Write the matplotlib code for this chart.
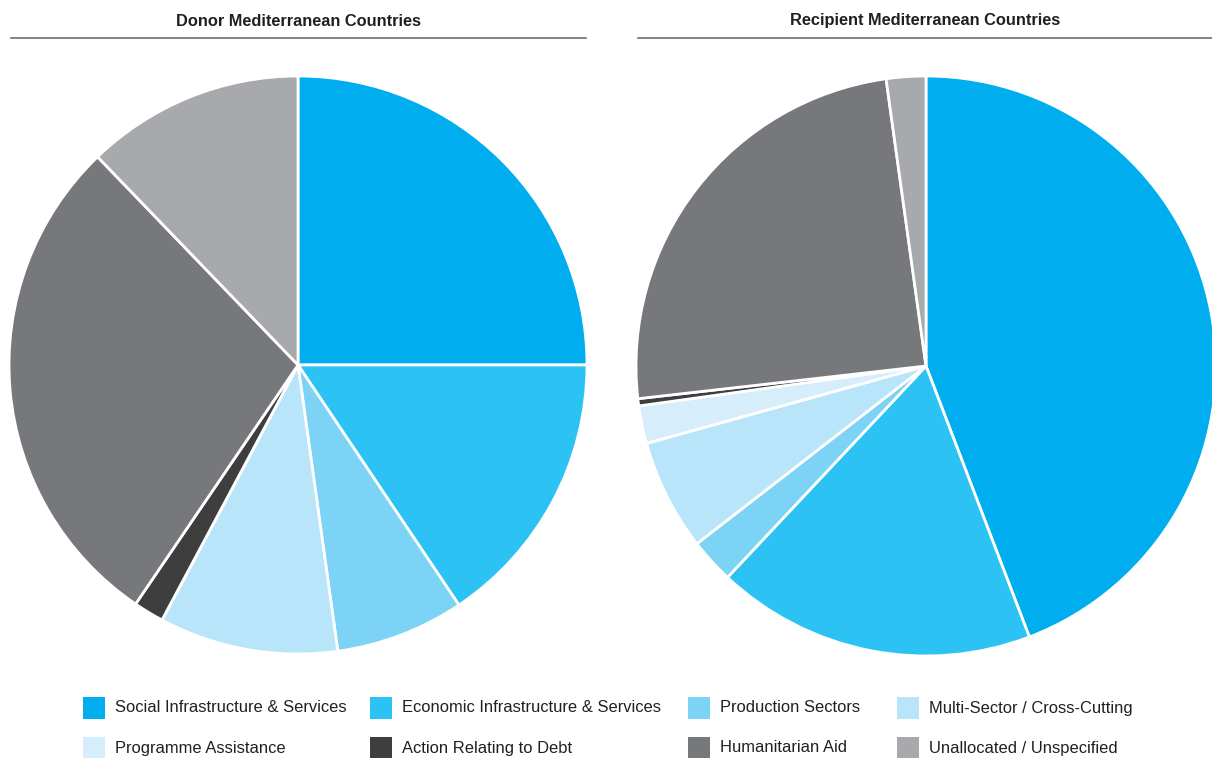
import matplotlib
matplotlib.use('Agg')
import matplotlib.pyplot as plt
from matplotlib.patches import Rectangle
from matplotlib.lines import Line2D

plt.rcParams['font.family'] = ['Liberation Sans', 'DejaVu Sans']

# 数据
categories = ['Social Infrastructure & Services', 'Economic Infrastructure & Services',
              'Production Sectors', 'Multi-Sector / Cross-Cutting',
              'Programme Assistance', 'Action Relating to Debt',
              'Humanitarian Aid', 'Unallocated / Unspecified']
colors = ['#00aeef', '#2cc3f4', '#7dd3f6', '#b8e5fa',
          '#d6eefb', '#3e3e3f', '#77787b', '#a7a9ac']
donor = [25.0, 15.6, 7.2, 10.0, 0.0, 1.7, 28.3, 12.2]
recipient = [44.2, 17.8, 2.5, 6.2, 2.1, 0.4, 24.6, 2.2]
titles = ['Donor Mediterranean Countries', 'Recipient Mediterranean Countries']

W, H = 1212, 758
fig = plt.figure(figsize=(W / 100, H / 100), dpi=100)


def px_axes(cx, cy, r):
    return fig.add_axes([(cx - r) / W, (H - cy - r) / H, 2 * r / W, 2 * r / H])


pies = [(298, 365, 289, donor), (926, 366, 290, recipient)]
for (cx, cy, r, vals) in pies:
    ax = px_axes(cx, cy, r)
    ax.pie(vals, colors=colors, startangle=90, counterclock=False,
           wedgeprops=dict(edgecolor='white', linewidth=2))
    ax.set_aspect('equal')
    ax.set_xlim(-1, 1)
    ax.set_ylim(-1, 1)
    ax.axis('off')

# 标题和分隔线
for title, (x0, x1) in zip(titles, [(11, 586), (638, 1212)]):
    fig.text((x0 + x1) / 2 / W, 1 - 21 / H, title, ha='center', va='center',
             fontsize=11.8, fontweight='bold', color='#231f20')
    fig.add_artist(Line2D([x0 / W, x1 / W], [1 - 38 / H, 1 - 38 / H],
                          color='#6d6e71', linewidth=1.2))

# 图例
col_x = [83, 370, 688, 897]
row_y = [708, 748]
for i, (name, c) in enumerate(zip(categories, colors)):
    x = col_x[i % 4]
    y = row_y[i // 4]
    fig.add_artist(Rectangle((x / W, (H - y - 11) / H), 22 / W, 22 / H,
                             facecolor=c, edgecolor='none'))
    fig.text((x + 32) / W, 1 - y / H, name, ha='left', va='center',
             fontsize=11.9, color='#231f20')

fig.savefig('out.png', dpi=100)
